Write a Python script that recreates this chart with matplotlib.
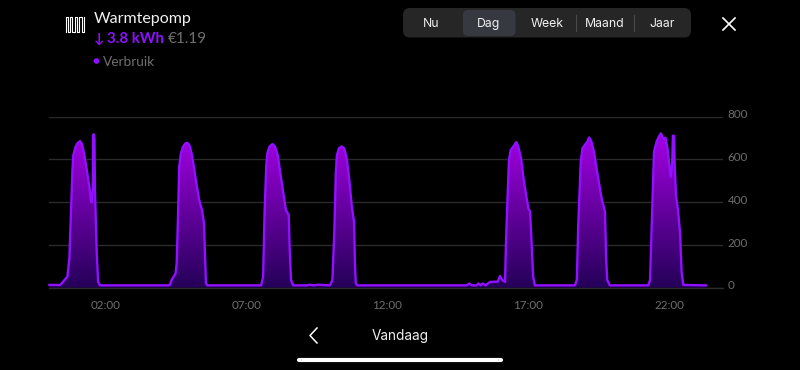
import matplotlib
matplotlib.use('Agg')
import matplotlib.pyplot as plt
from matplotlib.colors import LinearSegmentedColormap
from matplotlib.patches import FancyBboxPatch, Circle
from matplotlib.transforms import ScaledTranslation
import numpy as np

hours = [0.00, 0.26, 0.38, 0.64, 0.71, 0.77, 0.82, 0.85, 0.92, 0.99, 1.09, 1.16, 1.23, 1.32, 1.42, 1.47, 1.50, 1.54, 1.55, 1.57, 1.60, 1.62, 1.68, 1.73, 1.80,
         4.22, 4.28, 4.34, 4.48, 4.52, 4.57, 4.61, 4.66, 4.73, 4.82, 4.90, 4.97, 5.05, 5.13, 5.23, 5.32, 5.42, 5.49, 5.53, 5.56, 5.61,
         7.52, 7.59, 7.64, 7.70, 7.74, 7.82, 7.92, 8.01, 8.11, 8.20, 8.31, 8.40, 8.50, 8.53, 8.58, 8.66,
         9.14, 9.25, 9.37, 9.55, 9.96, 10.05, 10.12, 10.17, 10.21, 10.28, 10.38, 10.47, 10.56, 10.65, 10.74, 10.82, 10.85, 10.88, 10.93,
         14.82, 14.91, 15.01, 15.17, 15.24, 15.32, 15.39, 15.48, 15.65, 15.82, 15.92, 16.00, 16.08, 16.18,
         16.21, 16.27, 16.32, 16.38, 16.48, 16.58, 16.65, 16.75, 16.83, 16.92, 17.01, 17.07, 17.13, 17.18, 17.24,
         18.66, 18.73, 18.78, 18.87, 18.93, 19.03, 19.10, 19.17, 19.25, 19.34, 19.43, 19.53, 19.61, 19.73, 19.77, 19.81, 19.90,
         21.27, 21.33, 21.39, 21.47, 21.56, 21.64, 21.72, 21.80, 21.88, 21.95, 22.02, 22.07, 22.12, 22.14, 22.18, 22.21, 22.25, 22.33, 22.40, 22.45, 22.51, 23.32]
watts = [13, 13, 12, 52, 137, 371, 558, 620, 655, 675, 686, 671, 629, 558, 473, 410, 399, 465, 699, 718, 699, 449, 168, 28, 11,
         11, 13, 36, 67, 114, 348, 566, 620, 656, 674, 678, 667, 629, 566, 480, 410, 363, 301, 145, 21, 11,
         11, 52, 348, 566, 629, 661, 672, 661, 620, 535, 441, 363, 340, 192, 36, 11,
         11, 14, 11, 14, 11, 36, 270, 535, 620, 652, 661, 652, 605, 504, 379, 307, 114, 21, 11,
         11, 20, 11, 11, 20, 11, 20, 11, 27, 28, 28, 55, 36, 27,
         192, 426, 597, 644, 661, 681, 661, 605, 519, 441, 371, 356, 192, 51, 11,
         11, 36, 293, 590, 652, 671, 683, 703, 683, 635, 558, 480, 418, 356, 137, 36, 11,
         11, 36, 293, 635, 683, 706, 722, 696, 702, 652, 566, 519, 590, 711, 711, 558, 434, 356, 247, 75, 13, 11]
x_ticks = [2, 7, 12, 17, 22]
x_labels = ['02:00', '07:00', '12:00', '17:00', '22:00']
y_ticks = [0, 200, 400, 600, 800]
tabs = ['Nu', 'Dag', 'Week', 'Maand', 'Jaar']
tab_x = [431, 489, 547, 605, 662.5]

W, H = 800, 370
PURPLE = '#9010ff'
GREY = '#6e6e6e'

fig = plt.figure(figsize=(W / 100, H / 100), dpi=100, facecolor='black')

# page overlay in pixel coords for the app chrome
ui = fig.add_axes([0, 0, 1, 1])
ui.set_xlim(0, W)
ui.set_ylim(H, 0)
ui.axis('off')

# chart
left, right, top, bottom = 49.4, 722.7, 116.7, 287.7
ax = fig.add_axes([left / W, 1 - bottom / H, (right - left) / W, (bottom - top) / H])
ax.set_facecolor('none')
for s in ['top', 'left', 'right']:
    ax.spines[s].set_visible(False)
ax.spines['bottom'].set_color('#2c2c2c')
ax.spines['bottom'].set_linewidth(1)
ax.yaxis.tick_right()
ax.set_yticks(y_ticks)
ax.set_yticklabels([str(v) for v in y_ticks], fontsize=8.4, color=GREY, family='Lato')
ax.set_xticks(x_ticks)
ax.set_xticklabels(x_labels, fontsize=8.4, color=GREY, family='Lato')
ax.tick_params(length=0)
ax.tick_params(axis='y', pad=3.4)
ax.tick_params(axis='x', pad=9)
ax.grid(axis='y', color='#2a2a2a', lw=1)
ax.set_axisbelow(True)
for lab in ax.get_yticklabels():
    lab.set_transform(lab.get_transform() + ScaledTranslation(0, 2.8 / 100, fig.dpi_scale_trans))

cmap = LinearSegmentedColormap.from_list('fill', ['#a400e4', '#240058'])
poly = ax.fill_between(hours, watts, 0, color='none')
grad = ax.imshow(np.linspace(0, 1, 256).reshape(-1, 1), cmap=cmap, aspect='auto',
                 extent=[0, 24, 0, 720], origin='upper', zorder=2)
grad.set_clip_path(poly.get_paths()[0], transform=ax.transData)
ax.set_xlim(0, (right - left) / 28.16)
ax.set_ylim(0, 800)
ax.plot(hours, watts, color=PURPLE, lw=1.7, zorder=3, solid_joinstyle='round', clip_on=False)

# header
coil_x, coil_y = [], []
for i in range(4):
    x0 = 65.5 + i * 4.6
    coil_x += [x0, x0, x0 + 2.3, x0 + 2.3]
    coil_y += [32, 16.5, 16.5, 32]
coil_x.append(83.9)
coil_y.append(32)
coil_x.append(83.9)
coil_y.append(16.5)
ui.plot(coil_x, coil_y, color='white', lw=0.8, solid_joinstyle='round')

ui.text(94, 19, 'Warmtepomp', color='#f2f2f2', fontsize=11.5, family='Lato', va='center')
ui.text(94, 38.5, '↓', color=PURPLE, fontsize=10, family='Lato', va='center', fontweight='bold')
ui.text(107, 39, '3.8 kWh', color=PURPLE, fontsize=10.8, family='Lato', fontweight='bold', va='center')
ui.text(168, 39, '€1.19', color=GREY, fontsize=11, family='Lato', va='center')
ui.add_patch(Circle((96.5, 61), 2.8, color=PURPLE, lw=0))
ui.text(103, 62, 'Verbruik', color=GREY, fontsize=9.8, family='Lato', va='center')

# tab bar
ui.add_patch(FancyBboxPatch((403, 8), 288, 29.5, boxstyle='round,pad=0,rounding_size=7',
                            fc='#262626', lw=0))
ui.add_patch(FancyBboxPatch((463, 10), 52.5, 26, boxstyle='round,pad=0,rounding_size=5',
                            fc='#363940', lw=0))
for sx in [575.7, 633.7]:
    ui.plot([sx, sx], [14.5, 31], color='#4a4a4a', lw=0.8)
for name, tx in zip(tabs, tab_x):
    ui.text(tx, 24, name, color='#f0f0f0', fontsize=8.8, family='Inter', ha='center', va='center')

ui.plot([723, 735], [18, 30], color='white', lw=1.2)
ui.plot([723, 735], [30, 18], color='white', lw=1.2)

# bottom nav
ui.plot([317, 310, 317], [328, 335.5, 343], color='white', lw=1.1)
ui.text(400, 336, 'Vandaag', color='#f0f0f0', fontsize=9.8, family='Inter', ha='center', va='center')
ui.plot([299, 501], [360, 360], color='white', lw=3, solid_capstyle='round')

fig.savefig('out.png', dpi=100, facecolor='black')
